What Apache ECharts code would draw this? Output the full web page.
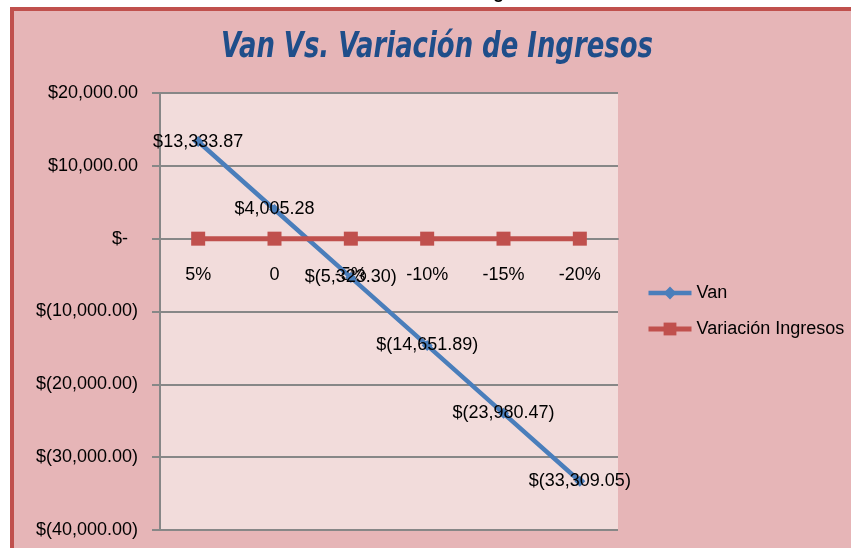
<!DOCTYPE html>
<html>
<head>
<meta charset="utf-8">
<title>Van Vs. Variación de Ingresos</title>
<script src="https://cdn.jsdelivr.net/npm/echarts@6/dist/echarts.min.js"></script>
<style>
  html, body { margin: 0; padding: 0; background: #ffffff; }
  #main { width: 851px; height: 548px; }
</style>
</head>
<body>
<div id="main"></div>
<script>
// chart data
const categories = ['5%', '0', '-5%', '-10%', '-15%', '-20%']
const vanValues = [13333.87, 4005.28, -5323.30, -14651.89, -23980.47, -33309.05]
const variacionValues = [0, 0, 0, 0, 0, 0]
const yMin = -40000
const yMax = 20000
const yStep = 10000

const baseFont = '"Liberation Sans", Arial, sans-serif'

// plot box in px
const gridTop = 93
const gridBottom = 18
const plotHeight = 548 - gridTop - gridBottom
// move the category axis up to y = 0 (onZero is not kicking in here)
const zeroOffset = -plotHeight * (0 - yMin) / (yMax - yMin)

function money (v) {
  const s = Math.abs(v).toLocaleString('en-US', { minimumFractionDigits: 2, maximumFractionDigits: 2 })
  return v < 0 ? '$(' + s + ')' : '$' + s
}

const chartDom = document.getElementById('main')
const myChart = echarts.init(chartDom)

const option = {
  animation: false,
  backgroundColor: '#ffffff',
  graphic: [
    {
      type: 'rect',
      z: -10,
      shape: { x: 12, y: 9, width: 900, height: 600 },
      style: { fill: '#e6b5b7', stroke: '#c0504d', lineWidth: 4 }
    },
    {
      type: 'text',
      z: -5,
      x: 552,
      y: 2,
      style: {
        text: 'Gráfico N° 11: Van Vs. Variación de Ingresos',
        font: 'bold 18px ' + baseFont,
        fill: '#000000',
        align: 'right',
        verticalAlign: 'bottom'
      }
    },
    {
      type: 'text',
      x: 437,
      y: 48,
      scaleX: 0.8,
      style: {
        text: 'Van Vs. Variación de Ingresos',
        font: 'italic bold 36px "Liberation Sans Narrow", "DejaVu Sans Condensed", sans-serif',
        fill: '#1f4e8a',
        align: 'center',
        verticalAlign: 'middle'
      }
    }
  ],
  legend: {
    orient: 'vertical',
    left: 641,
    top: 279,
    itemWidth: 43,
    itemHeight: 16,
    itemGap: 18,
    lineStyle: { width: 'inherit' },
    textStyle: { fontSize: 18, fontFamily: baseFont, color: '#000000' },
    data: ['Van', 'Variación Ingresos']
  },
  grid: {
    left: 160,
    top: gridTop,
    right: 233,
    bottom: gridBottom,
    containLabel: false,
    outerBoundsMode: 'none',
    show: true,
    backgroundColor: '#f2dcdb',
    borderWidth: 0
  },
  xAxis: {
    type: 'category',
    data: categories,
    position: 'bottom',
    offset: zeroOffset,
    axisLine: { onZero: false, lineStyle: { color: '#878787', width: 2 } },
    axisTick: { length: 7, lineStyle: { color: '#878787', width: 2 } },
    axisLabel: { margin: 27, fontSize: 18, fontFamily: baseFont, color: '#000000' }
  },
  yAxis: {
    type: 'value',
    min: yMin,
    max: yMax,
    interval: yStep,
    axisLine: { show: true, lineStyle: { color: '#878787', width: 2 } },
    axisTick: { show: true, length: 8, lineStyle: { color: '#878787', width: 2 } },
    splitLine: { lineStyle: { color: '#878787', width: 2 } },
    axisLabel: {
      margin: 22,
      fontSize: 18,
      fontFamily: baseFont,
      color: '#000000',
      formatter: function (v) { return v === 0 ? '$-  ' : money(v) }
    }
  },
  series: [
    {
      name: 'Van',
      type: 'line',
      data: vanValues,
      color: '#4a7ebb',
      symbol: 'diamond',
      symbolSize: 11,
      lineStyle: { width: 4.5, color: '#4a7ebb' },
      itemStyle: { color: '#4a7ebb' },
      label: {
        show: true,
        position: 'inside',
        fontSize: 18,
        fontFamily: baseFont,
        color: '#000000',
        formatter: function (p) { return money(p.value) }
      }
    },
    {
      name: 'Variación Ingresos',
      type: 'line',
      data: variacionValues,
      color: '#c0504d',
      symbol: 'rect',
      symbolSize: 14,
      lineStyle: { width: 5, color: '#c0504d' },
      itemStyle: { color: '#c0504d' }
    }
  ]
}

myChart.setOption(option)
</script>
</body>
</html>
